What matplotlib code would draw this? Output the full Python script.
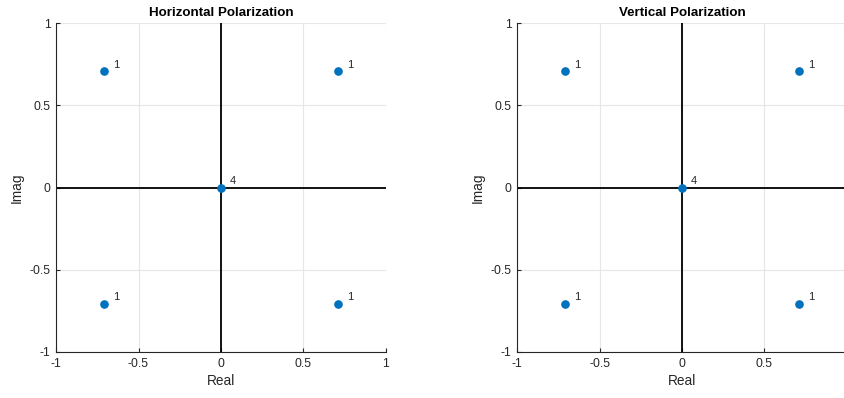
import matplotlib

matplotlib.use("Agg")
import matplotlib.pyplot as plt
import numpy as np

plt.rcParams["font.family"] = ["Liberation Sans", "DejaVu Sans"]

titles = ["Horizontal Polarization", "Vertical Polarization"]
point_real = [-0.7071, 0.7071, 0.0, -0.7071, 0.7071]
point_imag = [0.7071, 0.7071, 0.0, -0.7071, -0.7071]
point_counts = ["1", "1", "4", "1", "1"]
ticks = [-1, -0.5, 0, 0.5, 1]
tick_labels = ["-1", "-0.5", "0", "0.5", "1"]

W, H = 845, 398
fig = plt.figure(figsize=(W / 100, H / 100), dpi=100)
fig.patch.set_facecolor("white")

lefts = [56, 517]
for i, (left, title) in enumerate(zip(lefts, titles)):
    ax = fig.add_axes([left / W, (H - 352) / H, 330 / W, 329 / H])
    ax.set_xlim(-1, 1)
    ax.set_ylim(-1, 1)
    ax.grid(True, color="#e6e6e6", linewidth=0.8)
    ax.set_axisbelow(True)
    ax.axhline(0, color="black", linewidth=1.3, zorder=2)
    ax.axvline(0, color="black", linewidth=1.3, zorder=2)
    ax.plot(point_real, point_imag, "o", color="#0072BD", markersize=5.2,
            linestyle="none", zorder=3)
    for x, y, label in zip(point_real, point_imag, point_counts):
        ax.annotate(label, (x, y), xytext=(6.5, 2.5), textcoords="offset points",
                    fontsize=8, color="#262626", zorder=4)
    for side in ["top", "right"]:
        ax.spines[side].set_visible(False)
    for side in ["left", "bottom"]:
        ax.spines[side].set_color("#262626")
        ax.spines[side].set_linewidth(0.8)
    ax.set_xticks(ticks)
    # the right panel runs past the image edge, so its last x label is clipped away
    ax.set_xticklabels(tick_labels if i == 0 else tick_labels[:-1] + [""])
    ax.set_yticks(ticks)
    ax.set_yticklabels(tick_labels)
    ax.tick_params(direction="in", length=3, width=0.8, colors="#262626",
                   labelsize=8.8)
    ax.tick_params(axis="x", pad=4)
    ax.tick_params(axis="y", pad=4)
    ax.set_xlabel("Real", fontsize=9.8, color="#262626", labelpad=3)
    ax.set_ylabel("Imag", fontsize=9.8, color="#262626", labelpad=4)
    ax.set_title(title, fontsize=9.6, fontweight="bold", color="black", pad=5)

fig.savefig("out.png", dpi=100)
